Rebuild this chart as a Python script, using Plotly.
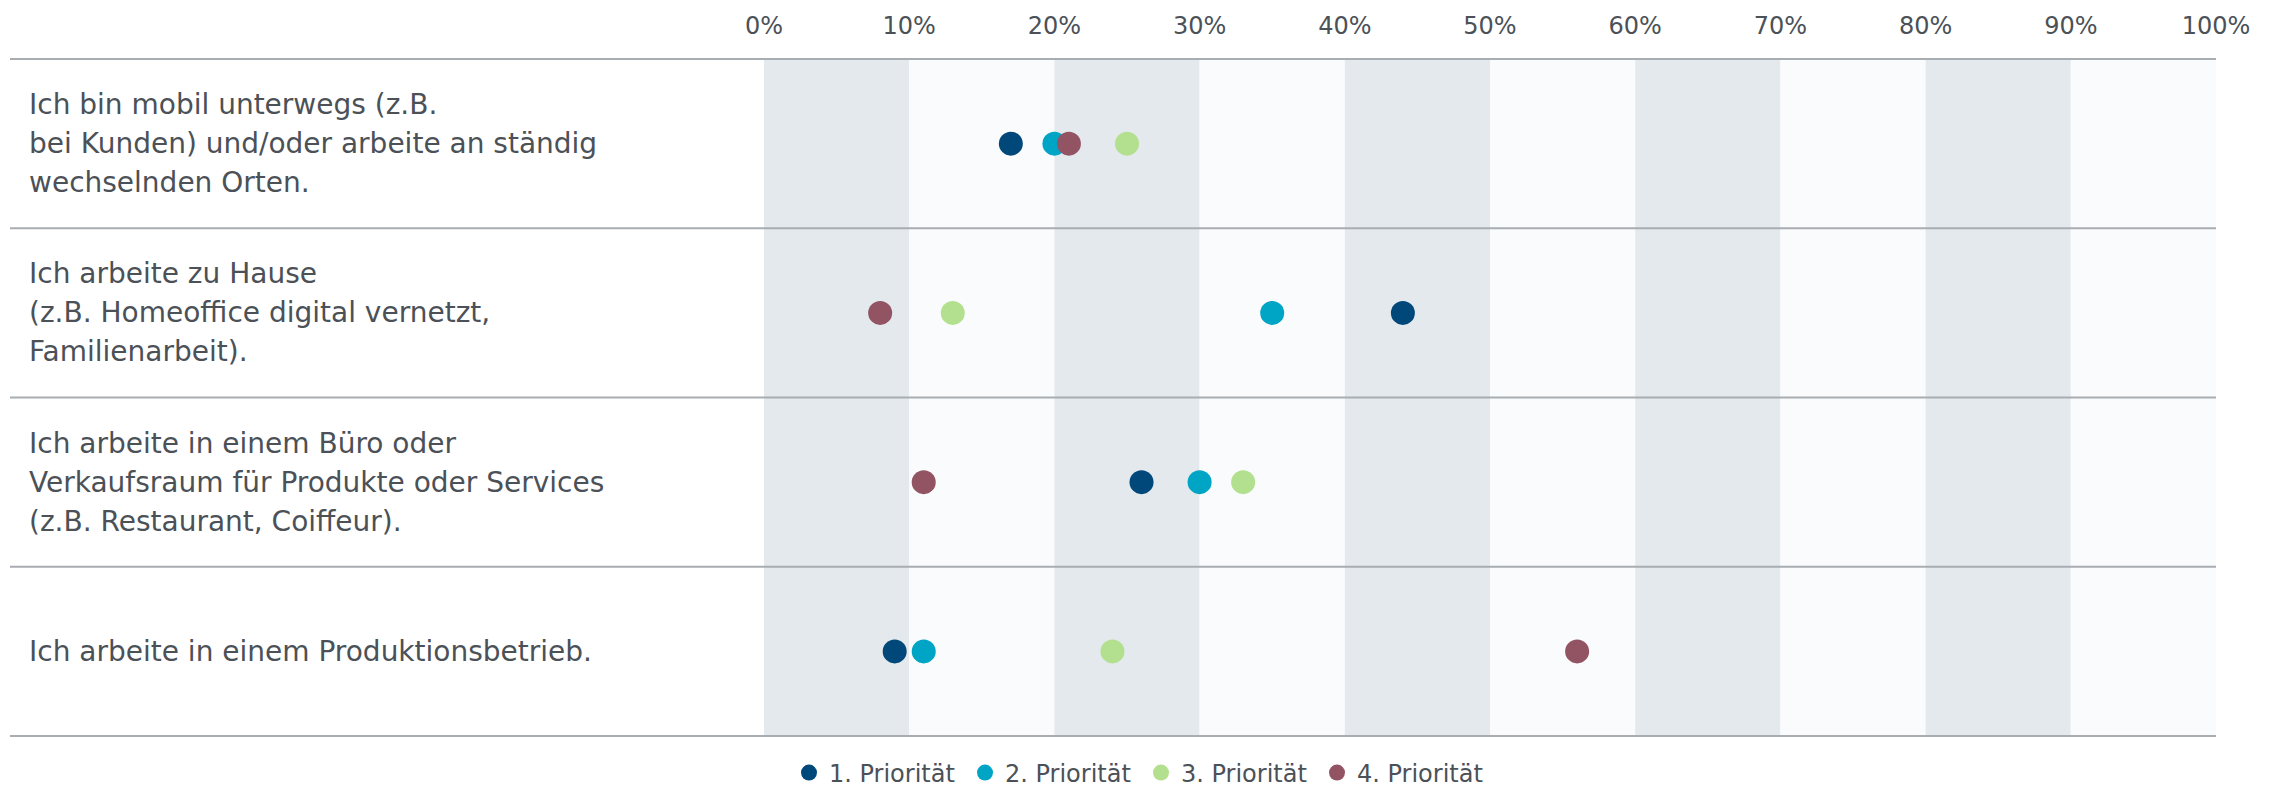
import plotly.graph_objects as go

# Work-location categories (label lines) and share per priority, in percent
categories = [
    "Ich bin mobil unterwegs",
    "Ich arbeite zu Hause",
    "Ich arbeite in einem Büro",
    "Ich arbeite in einem Produktionsbetrieb",
]
category_lines = [
    ["Ich bin mobil unterwegs (z.B.", "bei Kunden) und/oder arbeite an ständig", "wechselnden Orten."],
    ["Ich arbeite zu Hause", "(z.B. Homeoffice digital vernetzt,", "Familienarbeit)."],
    ["Ich arbeite in einem Büro oder", "Verkaufsraum für Produkte oder Services", "(z.B. Restaurant, Coiffeur)."],
    ["Ich arbeite in einem Produktionsbetrieb."],
]
series_names = ["1. Priorität", "2. Priorität", "3. Priorität", "4. Priorität"]
prio_1 = [17, 44, 26, 9]
prio_2 = [20, 35, 30, 11]
prio_3 = [25, 13, 33, 24]
prio_4 = [21, 8, 11, 56]
tick_values = [0, 10, 20, 30, 40, 50, 60, 70, 80, 90, 100]
tick_labels = ["0%", "10%", "20%", "30%", "40%", "50%", "60%", "70%", "80%", "90%", "100%"]

colors = ["#00487a", "#00a4c4", "#b2e08f", "#925463"]
text_color = "#4b5157"
font_family = "DejaVu Sans"

W, H = 2273, 793
M_L, M_R, M_T, M_B = 764, 57, 59, 57
plot_w = W - M_L - M_R
plot_h = H - M_T - M_B

fig = go.Figure()
for name, vals, col in zip(series_names, [prio_1, prio_2, prio_3, prio_4], colors):
    fig.add_trace(go.Scatter(
        x=vals, y=categories, mode="markers", name=name,
        marker=dict(size=24, color=col, line=dict(width=0)),
        hoverinfo="skip",
    ))

shapes = []
# alternating column bands (grey on every other 10% interval)
for i in range(len(tick_values) - 1):
    fill = "#e4e9ed" if i % 2 == 0 else "#fafbfd"
    shapes.append(dict(type="rect", xref="x", yref="paper",
                       x0=tick_values[i], x1=tick_values[i + 1], y0=0, y1=1,
                       fillcolor=fill, line=dict(width=0), layer="below"))
# horizontal row separators running under the labels
x_left = (10 - M_L) / plot_w
for k in range(len(categories) + 1):
    yp = 1 - k / len(categories)
    shapes.append(dict(type="line", xref="paper", yref="paper",
                       x0=x_left, x1=1, y0=yp, y1=yp,
                       line=dict(color="#a8adb2", width=2), layer="above"))

annotations = []
label_x = (27 - M_L) / plot_w
line_gap = 39
for cat, lines in zip(categories, category_lines):
    n = len(lines)
    for j, ln in enumerate(lines):
        annotations.append(dict(
            xref="paper", yref="y", x=label_x, y=cat, text=ln,
            xanchor="left", yanchor="middle", showarrow=False,
            yshift=((n - 1) / 2 - j) * line_gap,
            font=dict(family=font_family, size=28, color=text_color),
        ))

fig.update_layout(
    width=W, height=H,
    margin=dict(l=M_L, r=M_R, t=M_T, b=M_B, pad=0, autoexpand=False),
    paper_bgcolor="white", plot_bgcolor="white",
    font=dict(family=font_family, color=text_color),
    shapes=shapes, annotations=annotations,
    showlegend=True,
    legend=dict(
        orientation="h", x=(1141 - M_L) / plot_w, xanchor="center",
        y=-(773 - (H - M_B)) / plot_h, yanchor="middle",
        font=dict(family=font_family, size=24, color=text_color),
        itemwidth=30, entrywidth=131, bgcolor="rgba(0,0,0,0)",
    ),
    xaxis=dict(
        side="top", range=[0, 100], tickvals=tick_values, ticktext=tick_labels,
        showgrid=False, zeroline=False, showline=False, ticks="",
        tickfont=dict(family=font_family, size=24, color=text_color),
        ticklabelstandoff=19, fixedrange=True, automargin=False,
    ),
    yaxis=dict(
        categoryorder="array", categoryarray=categories,
        range=[len(categories) - 0.5, -0.5],
        showgrid=False, zeroline=False, showline=False,
        showticklabels=False, ticks="", fixedrange=True, automargin=False,
    ),
)

fig.write_html("out.html")
